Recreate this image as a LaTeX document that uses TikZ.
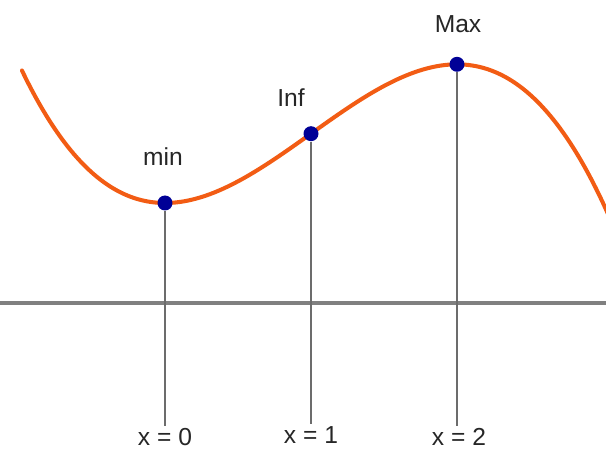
\documentclass[tikz,border=0pt]{standalone}
\usepackage{fontspec}
\setmainfont{Liberation Sans}
\definecolor{curvaC}{RGB}{242,92,20}
\definecolor{puntoC}{RGB}{0,0,150}
\definecolor{ejeC}{RGB}{128,128,128}
\usetikzlibrary{calc, positioning}

\begin{document}
\begin{tikzpicture}[
  x=0.02cm, y=0.02cm,
  pto/.style ={circle, fill=puntoC, inner sep=0pt, minimum size=0.30cm},
  etq/.style ={font=\fontsize{14}{16}\selectfont, text=black!85, inner sep=1pt},
  eje/.style ={line width=2.2pt, color=ejeC},
  guia/.style={line width=0.8pt, color=gray!85!black},
  curva/.style={line width=2.3pt, color=curvaC, line cap=round},
]
\useasboundingbox (0,0) rectangle (606,450);

%% ═══ Eje horizontal ═══
\coordinate (EI) at (0,147);
\coordinate (ED) at (606,147);
\draw[eje] (EI) -- (ED);

%% Curva cubica
\draw[curva] plot[domain=-0.98:3.05, samples=120, smooth]
  ({165+146*\x}, {247-104*(\x*\x*\x/3-\x*\x)});

%% ═══ Puntos criticos ═══
\node[etq] (LMin) at (163,293) {min};
\node[etq] (LInf) at (291,352) {Inf};
\node[etq] (LMax) at (458,426) {Max};

\node[etq, anchor=north] (XMin) at (165,24) {x = 0};
\node[etq, anchor=north] (XInf) at (311,26) {x = 1};
\node[etq, anchor=north] (XMax) at (459,24) {x = 2};

\node[pto] (PMin) at (165,247.0) {};
\node[pto] (PInf) at (311,316.3) {};
\node[pto] (PMax) at (457,385.7) {};

\draw[guia] (PMin.south) -- (PMin |- XMin.north);
\draw[guia] (PInf.south) -- (PInf |- XInf.north);
\draw[guia] (PMax.south) -- (PMax |- XMax.north);

\end{tikzpicture}
\end{document}
